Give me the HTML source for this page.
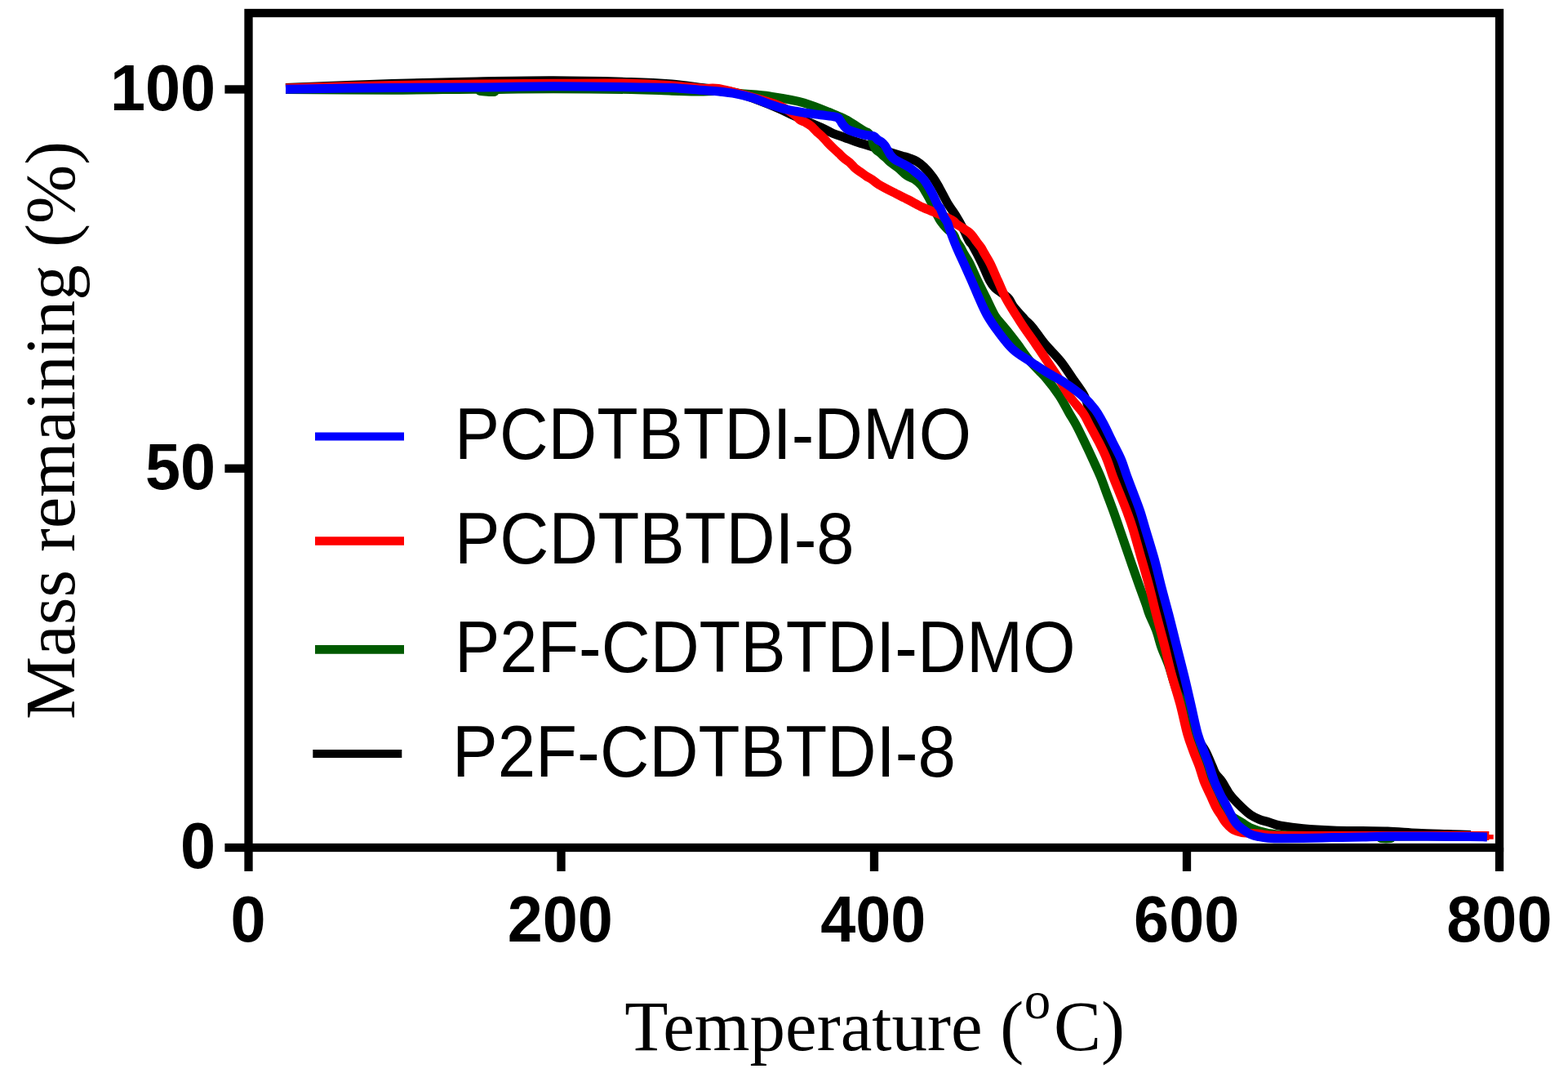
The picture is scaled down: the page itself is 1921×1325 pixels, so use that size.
<!DOCTYPE html>
<html><head><meta charset="utf-8"><title>TGA</title>
<style>
html,body{margin:0;padding:0;background:#fff;}
body{width:1921px;height:1325px;overflow:hidden;}
svg{display:block;}
.tk{font-family:"Liberation Sans",Arial,sans-serif;font-weight:bold;font-size:80px;fill:#000;}
.lg{font-family:"Liberation Sans",Arial,sans-serif;font-size:83px;fill:#000;}
.ax{font-family:"Liberation Serif","Times New Roman",serif;font-size:87px;fill:#000;}
</style></head>
<body>
<svg width="1921" height="1325" viewBox="0 0 1921 1325">
<rect x="0" y="0" width="1921" height="1325" fill="#fff"/>
<!-- curves: black, green, red, blue (bottom to top) -->
<path d="M350.0,107.5 C371.7,106.7 441.0,103.8 480.0,102.5 C519.0,101.2 551.0,100.5 584.0,99.9 C617.0,99.3 646.5,98.7 678.0,98.8 C709.5,98.9 748.8,99.8 773.0,100.5 C797.2,101.2 809.0,101.9 823.0,103.0 C837.0,104.1 847.5,106.0 857.0,107.2 C866.5,108.4 872.6,109.0 880.0,110.0 C887.4,111.0 893.3,111.3 901.6,113.5 C909.9,115.7 921.3,119.8 930.0,123.0 C938.7,126.2 946.3,129.4 953.7,132.7 C961.1,135.9 965.8,138.6 974.5,142.5 C983.2,146.4 998.1,152.5 1005.8,156.0 C1013.5,159.5 1016.0,161.5 1020.8,163.5 C1025.5,165.5 1029.8,166.6 1034.3,168.2 C1038.8,169.8 1043.4,171.8 1047.9,173.3 C1052.4,174.9 1054.2,175.2 1061.5,177.5 C1068.8,179.8 1084.7,184.8 1091.9,187.0 C1099.2,189.2 1101.3,189.8 1105.0,190.9 C1108.7,192.0 1111.0,192.5 1114.0,193.6 C1117.0,194.7 1120.0,195.7 1123.0,197.5 C1126.0,199.3 1128.7,201.3 1132.0,204.5 C1135.3,207.7 1139.4,212.3 1142.6,216.7 C1145.8,221.0 1148.1,225.3 1151.1,230.6 C1154.1,235.9 1157.6,243.3 1160.8,248.7 C1164.0,254.1 1167.2,258.0 1170.4,263.2 C1173.6,268.4 1177.2,274.7 1180.0,280.0 C1182.8,285.3 1185.3,291.5 1187.3,295.0 C1189.3,298.5 1189.2,296.6 1191.8,301.1 C1194.4,305.7 1199.5,315.2 1202.9,322.3 C1206.3,329.4 1209.7,338.3 1212.4,343.4 C1215.1,348.4 1216.2,349.8 1219.0,352.6 C1221.8,355.4 1226.2,357.8 1229.0,360.0 C1231.8,362.2 1233.9,363.4 1236.0,366.0 C1238.1,368.6 1238.4,371.2 1241.5,375.3 C1244.6,379.4 1250.8,386.1 1254.7,390.4 C1258.6,394.7 1260.8,396.0 1265.0,401.0 C1269.2,406.0 1273.9,413.7 1279.6,420.6 C1285.3,427.5 1293.5,435.2 1299.2,442.3 C1304.9,449.4 1309.2,456.4 1314.0,463.4 C1318.8,470.4 1324.6,477.4 1328.3,484.5 C1332.0,491.6 1332.7,498.6 1336.0,505.7 C1339.3,512.8 1344.8,520.9 1347.9,526.8 C1351.0,532.7 1351.7,535.2 1354.5,541.1 C1357.3,547.0 1361.8,555.2 1364.7,562.3 C1367.6,569.3 1369.5,576.4 1372.1,583.4 C1374.7,590.4 1377.7,597.5 1380.4,604.5 C1383.1,611.5 1386.0,618.7 1388.5,625.7 C1391.0,632.8 1392.5,637.1 1395.4,646.8 C1398.3,656.5 1402.7,672.1 1406.0,684.0 C1409.3,695.9 1412.0,706.6 1415.0,717.9 C1418.0,729.2 1421.0,740.6 1424.0,751.9 C1427.0,763.2 1429.8,773.4 1433.0,785.8 C1436.2,798.2 1439.8,813.4 1443.0,826.2 C1446.2,839.0 1449.0,850.3 1452.5,862.4 C1456.0,874.5 1459.9,889.1 1464.0,898.7 C1468.1,908.3 1473.5,913.4 1477.0,920.0 C1480.5,926.6 1483.0,933.6 1485.0,938.1 C1487.0,942.6 1487.1,944.2 1489.0,947.2 C1490.9,950.2 1494.3,953.2 1496.5,956.2 C1498.7,959.2 1500.4,962.7 1502.0,965.3 C1503.6,967.9 1504.5,969.9 1506.0,972.0 C1507.5,974.1 1508.5,975.4 1511.1,978.2 C1513.7,981.0 1518.2,985.7 1521.7,989.0 C1525.2,992.3 1528.8,995.6 1532.3,998.0 C1535.8,1000.4 1539.3,1001.9 1542.8,1003.3 C1546.3,1004.7 1550.5,1005.6 1553.4,1006.5 C1556.3,1007.4 1557.3,1008.0 1560.0,1008.8 C1562.7,1009.6 1563.2,1010.3 1569.3,1011.3 C1575.4,1012.3 1585.8,1013.8 1596.4,1014.7 C1607.0,1015.6 1620.8,1016.4 1632.9,1016.9 C1645.1,1017.4 1658.1,1017.4 1669.3,1017.6 C1680.5,1017.8 1688.8,1017.6 1700.0,1018.0 C1711.2,1018.4 1724.2,1019.6 1736.4,1020.2 C1748.6,1020.8 1762.0,1021.2 1772.9,1021.6 C1783.8,1022.0 1797.2,1022.3 1802.0,1022.4" fill="none" stroke="#000000" stroke-width="11" stroke-linejoin="round" stroke-linecap="butt"/>
<path d="M350.0,109.5 C371.7,109.6 441.0,110.2 480.0,110.2 C519.0,110.2 566.0,109.0 584.0,109.2 C602.0,109.4 585.8,111.0 588.0,111.5 C590.2,112.0 594.0,112.2 597.0,112.3 C600.0,112.4 603.8,112.8 606.0,112.3 C608.2,111.8 598.0,110.1 610.0,109.5 C622.0,108.9 650.8,108.7 678.0,108.7 C705.2,108.7 748.8,109.1 773.0,109.5 C797.2,109.9 809.0,110.8 823.0,111.2 C837.0,111.6 847.5,112.0 857.0,112.0 C866.5,112.0 871.7,111.1 880.0,111.5 C888.3,111.9 896.2,113.4 906.8,114.5 C917.3,115.6 930.3,116.1 943.3,118.0 C956.3,119.9 971.0,122.0 984.9,126.0 C998.8,130.0 1017.4,138.2 1026.6,142.0 C1035.8,145.8 1034.8,145.5 1040.0,148.5 C1045.2,151.5 1054.1,157.6 1058.1,160.0 C1062.1,162.4 1062.3,161.7 1064.0,163.0 C1065.7,164.3 1067.0,165.7 1068.0,168.0 C1069.0,170.3 1069.1,174.4 1070.0,177.0 C1070.9,179.6 1072.1,181.8 1073.5,183.5 C1074.9,185.2 1077.0,185.8 1078.4,187.0 C1079.8,188.2 1080.7,189.4 1081.8,190.4 C1082.9,191.4 1084.1,192.1 1085.2,193.1 C1086.3,194.1 1087.5,195.4 1088.6,196.5 C1089.7,197.6 1090.1,198.0 1092.0,199.5 C1093.9,201.0 1097.1,202.9 1100.2,205.4 C1103.3,207.9 1107.0,212.2 1110.4,214.6 C1113.8,217.0 1117.5,217.6 1120.6,219.7 C1123.7,221.8 1126.6,224.3 1129.0,227.1 C1131.4,229.9 1132.7,233.0 1134.8,236.6 C1136.9,240.2 1139.4,244.7 1141.4,248.7 C1143.4,252.7 1145.1,257.1 1146.9,260.8 C1148.8,264.5 1150.3,267.8 1152.5,271.0 C1154.7,274.2 1157.4,277.3 1160.0,280.0 C1162.6,282.7 1166.0,284.3 1168.0,287.0 C1170.0,289.7 1170.7,293.3 1172.2,296.0 C1173.7,298.7 1175.6,300.7 1177.0,303.0 C1178.4,305.3 1178.7,306.8 1180.5,310.0 C1182.3,313.2 1185.0,316.7 1187.8,322.3 C1190.6,327.9 1194.1,336.4 1197.5,343.4 C1200.9,350.4 1204.5,357.4 1208.0,364.5 C1211.5,371.6 1215.1,380.1 1218.4,385.7 C1221.7,391.3 1225.2,394.5 1228.0,398.0 C1230.8,401.5 1232.3,402.9 1235.4,406.8 C1238.5,410.7 1242.0,415.2 1246.4,421.1 C1250.8,427.0 1256.1,435.2 1262.0,442.3 C1267.9,449.4 1275.8,456.4 1281.8,463.4 C1287.8,470.4 1293.0,477.4 1297.7,484.5 C1302.4,491.6 1306.4,499.8 1309.8,505.7 C1313.2,511.6 1315.0,514.1 1318.2,520.0 C1321.4,525.9 1325.3,534.1 1328.7,541.1 C1332.1,548.1 1335.4,555.2 1338.6,562.3 C1341.8,569.3 1345.2,576.4 1348.1,583.4 C1351.0,590.4 1353.4,597.5 1356.0,604.5 C1358.6,611.5 1361.4,618.7 1363.9,625.7 C1366.5,632.8 1367.9,637.1 1371.3,646.8 C1374.7,656.5 1380.0,672.1 1384.1,684.0 C1388.2,695.9 1392.7,708.6 1396.0,717.9 C1399.3,727.2 1402.0,734.3 1404.0,740.0 C1406.0,745.7 1405.9,746.7 1408.0,752.0 C1410.1,757.3 1414.0,764.9 1416.5,771.7 C1419.0,778.5 1420.5,785.8 1423.0,792.8 C1425.5,799.8 1429.0,807.0 1431.5,814.0 C1434.0,821.0 1436.2,829.4 1438.0,835.1 C1439.8,840.8 1440.7,843.5 1442.5,848.0 C1444.3,852.5 1446.0,853.9 1449.0,862.4 C1452.0,870.9 1457.3,889.1 1460.2,898.7 C1463.1,908.3 1464.3,913.5 1466.5,920.0 C1468.7,926.5 1471.2,932.0 1473.5,938.0 C1475.8,944.0 1478.2,950.0 1480.5,956.0 C1482.8,962.0 1484.2,968.7 1487.0,974.0 C1489.8,979.3 1493.5,983.8 1497.0,988.0 C1500.5,992.2 1504.8,996.3 1508.0,999.0 C1511.2,1001.7 1513.7,1002.8 1516.0,1004.2 C1518.3,1005.6 1519.0,1006.0 1521.7,1007.6 C1524.4,1009.2 1528.8,1012.3 1532.3,1014.0 C1535.8,1015.7 1539.3,1016.7 1542.8,1017.7 C1546.3,1018.8 1549.0,1019.5 1553.4,1020.3 C1557.8,1021.1 1561.5,1022.0 1569.3,1022.5 C1577.1,1023.0 1580.5,1023.2 1600.0,1023.5 C1619.5,1023.8 1670.7,1023.5 1686.0,1024.0 C1701.3,1024.5 1689.0,1026.1 1692.0,1026.5 C1695.0,1026.9 1701.0,1026.9 1704.0,1026.5 C1707.0,1026.1 1690.7,1024.4 1710.0,1024.0 C1729.3,1023.6 1801.7,1024.0 1820.0,1024.0" fill="none" stroke="#005a00" stroke-width="11" stroke-linejoin="round" stroke-linecap="butt"/>
<path d="M350.0,108.0 C371.7,107.4 441.0,105.3 480.0,104.5 C519.0,103.7 551.0,103.4 584.0,103.0 C617.0,102.6 646.5,102.4 678.0,102.3 C709.5,102.2 748.8,101.8 773.0,102.2 C797.2,102.6 808.5,103.7 823.0,104.7 C837.5,105.7 850.5,107.7 860.0,108.3 C869.5,108.9 870.5,106.9 880.0,108.5 C889.5,110.1 905.9,114.6 917.3,117.7 C928.7,120.8 941.0,124.5 948.5,127.0 C956.0,129.6 957.7,130.6 962.0,133.0 C966.3,135.4 971.5,139.2 974.5,141.5 C977.5,143.8 978.0,145.4 980.0,146.8 C982.0,148.2 984.5,148.7 986.8,149.9 C989.1,151.2 991.3,152.4 993.6,154.3 C995.9,156.2 998.1,158.9 1000.4,161.1 C1002.7,163.2 1004.9,164.9 1007.2,167.2 C1009.5,169.4 1011.7,172.2 1014.0,174.6 C1016.3,177.0 1018.5,179.2 1020.8,181.4 C1023.1,183.6 1025.3,185.5 1027.6,187.6 C1029.8,189.7 1032.0,192.1 1034.3,194.0 C1036.5,195.9 1038.8,197.1 1041.1,199.1 C1043.4,201.1 1045.6,204.2 1047.9,206.2 C1050.2,208.2 1052.4,209.4 1054.7,211.0 C1057.0,212.6 1059.2,214.3 1061.5,215.8 C1063.8,217.3 1065.8,218.2 1068.3,219.8 C1070.8,221.5 1071.9,223.1 1076.2,225.7 C1080.5,228.3 1088.2,232.3 1094.3,235.4 C1100.3,238.5 1106.5,241.4 1112.5,244.5 C1118.5,247.6 1124.6,251.3 1130.6,254.1 C1136.6,256.9 1142.7,258.8 1148.7,261.4 C1154.7,264.0 1162.9,267.6 1166.8,269.8 C1170.7,272.0 1169.8,272.9 1172.0,274.5 C1174.2,276.1 1177.4,277.8 1180.0,279.5 C1182.6,281.2 1185.6,283.1 1187.8,285.0 C1190.0,286.9 1191.5,289.2 1193.0,291.0 C1194.5,292.8 1195.0,294.0 1196.5,296.0 C1198.0,298.0 1200.4,300.8 1201.9,303.0 C1203.4,305.2 1203.7,306.3 1205.5,309.5 C1207.3,312.7 1210.1,316.7 1212.9,322.3 C1215.7,327.9 1219.2,336.4 1222.4,343.4 C1225.6,350.4 1228.2,357.4 1231.9,364.5 C1235.6,371.6 1240.9,379.8 1244.6,385.7 C1248.2,391.6 1249.8,394.1 1253.8,400.0 C1257.8,405.9 1263.8,414.1 1268.6,421.1 C1273.4,428.2 1278.2,435.2 1282.9,442.3 C1287.7,449.4 1292.6,456.4 1297.1,463.4 C1301.6,470.4 1304.9,477.4 1309.8,484.5 C1314.7,491.6 1322.6,499.8 1326.7,505.7 C1330.8,511.6 1331.4,514.1 1334.6,520.0 C1337.8,525.9 1342.4,534.1 1346.0,541.1 C1349.6,548.1 1353.1,555.2 1356.0,562.3 C1358.9,569.3 1360.8,576.4 1363.4,583.4 C1366.1,590.4 1369.1,597.5 1371.9,604.5 C1374.7,611.5 1377.7,618.7 1380.3,625.7 C1382.9,632.8 1384.7,637.1 1387.7,646.8 C1390.7,656.5 1394.9,672.1 1398.3,684.0 C1401.7,695.9 1404.9,706.6 1407.9,717.9 C1410.9,729.2 1413.4,740.2 1416.4,751.9 C1419.4,763.6 1422.8,775.6 1426.0,788.0 C1429.2,800.4 1432.1,813.8 1435.4,826.2 C1438.7,838.6 1442.7,850.3 1445.9,862.4 C1449.1,874.5 1452.0,889.1 1454.7,898.7 C1457.4,908.3 1459.6,913.4 1462.0,920.0 C1464.4,926.6 1466.9,932.1 1469.1,938.1 C1471.2,944.1 1472.6,950.2 1474.9,956.2 C1477.2,962.2 1480.6,968.8 1483.1,974.3 C1485.6,979.8 1488.0,985.5 1490.0,989.3 C1492.0,993.1 1493.2,994.2 1495.0,997.0 C1496.8,999.8 1498.9,1003.7 1500.6,1006.0 C1502.3,1008.3 1503.2,1009.3 1505.0,1011.0 C1506.8,1012.7 1508.3,1014.6 1511.1,1016.0 C1513.9,1017.4 1518.2,1018.8 1521.7,1019.5 C1525.2,1020.2 1528.8,1020.1 1532.3,1020.4 C1535.8,1020.7 1539.3,1020.8 1542.8,1021.2 C1546.3,1021.6 1549.0,1022.4 1553.4,1022.8 C1557.8,1023.1 1561.5,1023.2 1569.3,1023.3 C1577.1,1023.4 1557.5,1023.4 1600.0,1023.4 C1642.5,1023.4 1786.9,1023.5 1824.3,1023.5" fill="none" stroke="#ff0000" stroke-width="11" stroke-linejoin="round" stroke-linecap="butt"/>
<rect x="1821.8" y="1022.1" width="7.9" height="5.6" fill="#ff0000"/>
<path d="M350.0,109.2 C371.7,108.9 441.0,107.8 480.0,107.4 C519.0,107.0 551.0,107.2 584.0,106.9 C617.0,106.6 646.5,105.8 678.0,105.8 C709.5,105.8 748.8,106.4 773.0,106.7 C797.2,107.0 809.0,106.9 823.0,107.5 C837.0,108.1 847.4,109.5 857.0,110.2 C866.6,111.0 873.4,111.2 880.8,112.0 C888.2,112.8 894.6,113.5 901.6,114.8 C908.6,116.1 915.5,117.8 922.5,120.0 C929.5,122.2 936.4,125.3 943.3,127.7 C950.2,130.1 957.2,132.5 964.1,134.2 C971.0,135.9 978.0,136.9 984.9,138.0 C991.8,139.1 999.2,139.9 1005.8,140.8 C1012.4,141.7 1020.6,142.4 1024.5,143.4 C1028.4,144.4 1027.6,145.4 1029.0,147.0 C1030.4,148.6 1031.2,150.9 1033.0,153.0 C1034.8,155.1 1035.8,157.3 1040.0,159.3 C1044.2,161.3 1053.1,163.6 1058.1,164.8 C1063.1,166.1 1067.4,165.8 1070.2,166.8 C1073.0,167.8 1073.4,169.8 1075.0,171.0 C1076.6,172.2 1078.3,172.6 1079.8,173.8 C1081.3,175.0 1082.7,176.3 1084.0,178.0 C1085.3,179.7 1086.3,182.0 1087.5,184.0 C1088.7,186.0 1089.6,188.1 1091.0,190.0 C1092.4,191.9 1093.7,193.5 1096.0,195.2 C1098.3,196.9 1102.0,198.4 1105.0,200.0 C1108.0,201.6 1111.0,203.0 1114.0,205.0 C1117.0,207.0 1120.0,209.5 1123.0,212.0 C1126.0,214.5 1128.9,216.3 1131.9,220.2 C1135.0,224.1 1138.5,230.3 1141.3,235.3 C1144.1,240.3 1146.7,247.1 1148.5,250.4 C1150.3,253.7 1150.7,252.8 1152.0,255.3 C1153.3,257.8 1154.9,262.6 1156.4,265.5 C1157.9,268.4 1159.7,270.4 1160.8,272.8 C1161.9,275.2 1161.5,275.3 1163.2,280.0 C1164.9,284.7 1168.3,294.1 1171.2,301.1 C1174.1,308.2 1177.5,315.2 1180.7,322.3 C1183.9,329.4 1187.1,336.4 1190.2,343.4 C1193.3,350.4 1196.0,357.4 1199.2,364.5 C1202.4,371.6 1205.2,378.6 1209.2,385.7 C1213.2,392.8 1218.2,399.9 1223.5,407.0 C1228.8,414.1 1234.6,422.0 1241.1,428.0 C1247.6,434.0 1255.2,438.1 1262.3,442.8 C1269.3,447.6 1276.4,452.2 1283.4,456.5 C1290.4,460.8 1297.5,464.0 1304.5,468.7 C1311.5,473.4 1319.5,479.1 1325.7,484.5 C1331.9,489.9 1337.2,495.8 1341.5,501.4 C1345.8,507.0 1347.9,511.4 1351.5,518.0 C1355.1,524.6 1359.2,533.7 1362.9,541.1 C1366.6,548.5 1370.4,555.2 1373.4,562.3 C1376.4,569.3 1378.2,576.4 1380.8,583.4 C1383.4,590.4 1386.1,597.5 1388.8,604.5 C1391.5,611.5 1394.3,618.7 1396.7,625.7 C1399.1,632.8 1400.1,637.1 1403.0,646.8 C1405.9,656.5 1410.8,672.1 1414.1,684.0 C1417.4,695.9 1419.7,706.6 1422.6,717.9 C1425.5,729.2 1428.7,740.4 1431.7,751.9 C1434.7,763.4 1437.4,774.6 1440.5,787.0 C1443.6,799.4 1447.3,813.6 1450.4,826.2 C1453.5,838.8 1456.1,850.3 1458.9,862.4 C1461.7,874.5 1464.6,889.1 1467.3,898.7 C1470.0,908.3 1472.8,914.0 1475.0,920.0 C1477.2,926.0 1478.5,928.9 1480.6,934.9 C1482.7,940.9 1485.1,949.6 1487.6,956.2 C1490.1,962.8 1493.8,970.2 1495.8,974.3 C1497.8,978.4 1497.5,977.2 1499.5,980.9 C1501.5,984.6 1505.7,992.9 1507.7,996.7 C1509.7,1000.6 1510.1,1001.8 1511.5,1004.0 C1512.9,1006.2 1514.3,1008.2 1516.0,1010.0 C1517.7,1011.8 1519.0,1012.8 1521.7,1014.8 C1524.4,1016.8 1528.8,1020.1 1532.3,1021.8 C1535.8,1023.4 1539.3,1024.0 1542.8,1024.7 C1546.3,1025.5 1549.0,1026.0 1553.4,1026.3 C1557.8,1026.6 1562.1,1026.8 1569.3,1026.8 C1576.5,1026.8 1585.8,1026.7 1596.4,1026.5 C1607.0,1026.3 1620.8,1025.8 1632.9,1025.6 C1645.1,1025.4 1658.1,1025.3 1669.3,1025.1 C1680.5,1024.9 1678.2,1024.4 1700.0,1024.3 C1721.8,1024.2 1779.7,1024.5 1800.0,1024.6 C1820.3,1024.7 1818.2,1024.9 1821.9,1025.0" fill="none" stroke="#0000ff" stroke-width="11" stroke-linejoin="round" stroke-linecap="butt"/>
<!-- frame -->
<rect x="304.5" y="16" width="1532.5" height="1022" fill="none" stroke="#000" stroke-width="10.3"/>
<!-- y ticks -->
<line x1="275.4" y1="109.45" x2="304.5" y2="109.45" stroke="#000" stroke-width="10.3"/>
<line x1="275.4" y1="573.7" x2="304.5" y2="573.7" stroke="#000" stroke-width="10.3"/>
<line x1="275.4" y1="1038" x2="304.5" y2="1038" stroke="#000" stroke-width="10.3"/>
<!-- x ticks -->
<line x1="304.5" y1="1038" x2="304.5" y2="1066.9" stroke="#000" stroke-width="10.3"/>
<line x1="687.5" y1="1038" x2="687.5" y2="1066.9" stroke="#000" stroke-width="10.3"/>
<line x1="1071" y1="1038" x2="1071" y2="1066.9" stroke="#000" stroke-width="10.3"/>
<line x1="1454" y1="1038" x2="1454" y2="1066.9" stroke="#000" stroke-width="10.3"/>
<line x1="1837" y1="1038" x2="1837" y2="1066.9" stroke="#000" stroke-width="10.3"/>
<!-- y tick labels -->
<text class="tk" text-anchor="end" transform="translate(264.2,134.7) scale(0.9685,1)">100</text>
<text class="tk" text-anchor="end" transform="translate(264.2,598.8) scale(0.9685,1)">50</text>
<text class="tk" text-anchor="end" transform="translate(264.2,1063) scale(0.9685,1)">0</text>
<!-- x tick labels -->
<text class="tk" text-anchor="middle" transform="translate(304,1152.9) scale(0.9685,1)">0</text>
<text class="tk" text-anchor="middle" transform="translate(686.3,1152.9) scale(0.9685,1)">200</text>
<text class="tk" text-anchor="middle" transform="translate(1069.8,1152.9) scale(0.9685,1)">400</text>
<text class="tk" text-anchor="middle" transform="translate(1453.7,1152.9) scale(0.9685,1)">600</text>
<text class="tk" text-anchor="middle" transform="translate(1836.9,1152.9) scale(0.9685,1)">800</text>
<!-- axis titles -->
<text class="ax" y="1286"><tspan x="765.2">Temperature (</tspan><tspan x="1254.8" y="1247.4" font-size="65">o</tspan><tspan x="1291" y="1286">C)</tspan></text>
<text class="ax" transform="translate(90.7,880.9) rotate(-90) scale(0.997,1)" x="0" y="0">Mass remaining (%)</text>
<!-- legend -->
<line x1="386" y1="534.55" x2="495" y2="534.55" stroke="#0000ff" stroke-width="10.1"/>
<line x1="386" y1="662.45" x2="495" y2="662.45" stroke="#ff0000" stroke-width="10.5"/>
<line x1="386" y1="795.45" x2="495" y2="795.45" stroke="#005a00" stroke-width="10.7"/>
<line x1="383.3" y1="922.95" x2="492.3" y2="922.95" stroke="#000000" stroke-width="9.9"/>
<text class="lg" transform="translate(556.9,561.9) scale(0.995,1.068)">PCDTBTDI-DMO</text>
<text class="lg" transform="translate(556.9,690.2) scale(1.002,1.068)">PCDTBTDI-8</text>
<text class="lg" transform="translate(556.9,823.3) scale(1,1.068)">P2F-CDTBTDI-DMO</text>
<text class="lg" transform="translate(554,951) scale(1.006,1.068)">P2F-CDTBTDI-8</text>
</svg>
</body></html>
